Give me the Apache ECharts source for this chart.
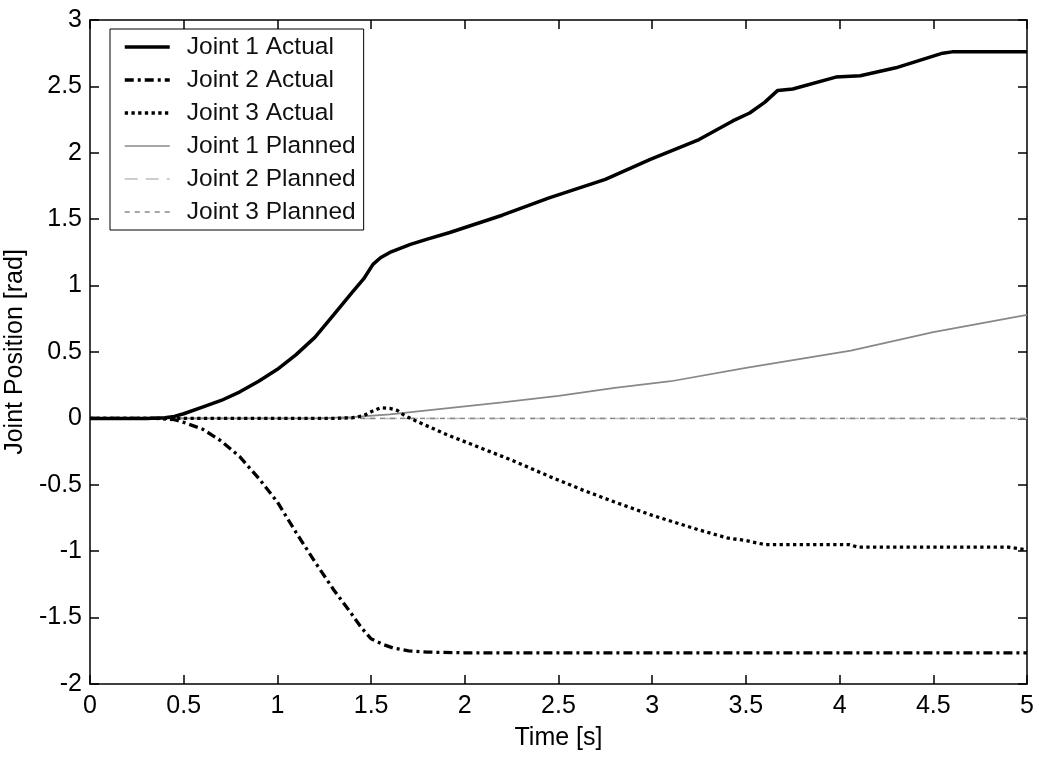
<!DOCTYPE html>
<html>
<head>
<meta charset="utf-8">
<script src="https://cdn.jsdelivr.net/npm/echarts@6/dist/echarts.min.js"></script>
<style>html,body{margin:0;padding:0;background:#fff}#c{width:1039px;height:757px}</style>
</head>
<body>
<div id="c"></div>
<script>
// Tick labels
const xTicks = [0, 0.5, 1, 1.5, 2, 2.5, 3, 3.5, 4, 4.5, 5];
const yTicks = [-2, -1.5, -1, -0.5, 0, 0.5, 1, 1.5, 2, 2.5, 3];
const seriesNames = ['Joint 1 Actual', 'Joint 2 Actual', 'Joint 3 Actual', 'Joint 1 Planned', 'Joint 2 Planned', 'Joint 3 Planned'];

// Joint 1 Actual
const t1 = [0, 0.3, 0.4, 0.45, 0.5, 0.6, 0.7, 0.8, 0.9, 1.0, 1.1, 1.2, 1.3, 1.4, 1.46, 1.51, 1.55, 1.6, 1.71, 1.8, 1.92, 2.2, 2.45, 2.75, 2.99, 3.25, 3.43, 3.52, 3.6, 3.67, 3.75, 3.98, 4.11, 4.3, 4.55, 4.6, 5.0];
const j1 = [0, 0, 0.005, 0.015, 0.035, 0.085, 0.135, 0.2, 0.28, 0.37, 0.48, 0.61, 0.78, 0.95, 1.05, 1.16, 1.21, 1.25, 1.31, 1.35, 1.40, 1.53, 1.66, 1.80, 1.95, 2.10, 2.24, 2.30, 2.38, 2.47, 2.48, 2.57, 2.58, 2.64, 2.75, 2.76, 2.76];

// Joint 2 Actual
const t2 = [0, 0.35, 0.45, 0.5, 0.6, 0.7, 0.8, 0.9, 1.0, 1.1, 1.2, 1.3, 1.4, 1.45, 1.5, 1.56, 1.62, 1.7, 1.8, 2.0, 2.5, 5.0];
const j2 = [0, 0, -0.01, -0.03, -0.08, -0.17, -0.29, -0.45, -0.63, -0.86, -1.08, -1.29, -1.48, -1.58, -1.66, -1.70, -1.73, -1.75, -1.76, -1.765, -1.765, -1.765];

// Joint 3 Actual
const t3 = [0, 1.3, 1.4, 1.46, 1.5, 1.55, 1.6, 1.64, 1.68, 1.74, 1.9, 2.08, 2.26, 2.44, 2.63, 2.8, 3.0, 3.25, 3.4, 3.5, 3.6, 4.05, 4.1, 4.9, 5.0];
const j3 = [0, 0, 0.005, 0.02, 0.05, 0.08, 0.075, 0.06, 0.02, -0.02, -0.12, -0.22, -0.32, -0.43, -0.54, -0.63, -0.73, -0.84, -0.9, -0.92, -0.95, -0.95, -0.97, -0.97, -0.99];

// Joint 1 Planned
const tp1 = [0, 1.2, 1.4, 1.6, 1.8, 2.0, 2.2, 2.5, 2.8, 3.1, 3.5, 4.06, 4.5, 5.0];
const p1 = [0, 0, 0.01, 0.03, 0.06, 0.09, 0.12, 0.17, 0.23, 0.28, 0.38, 0.51, 0.65, 0.78];

// Joint 2 / Joint 3 Planned
const tp23 = [0, 5];
const p2 = [0, 0];
const p3 = [0, 0];

const pairs = (t, v) => t.map((x, i) => [x, v[i]]);

const FONT = 'Liberation Sans, Arial, sans-serif';
const axisCommon = {
  type: 'value',
  interval: 0.5,
  axisLine: { show: true, onZero: false, lineStyle: { color: '#000', width: 1.5 } },
  axisTick: { show: true, inside: true, length: 9, lineStyle: { color: '#000', width: 1.5 } },
  splitLine: { show: false }
};

const styles = [
  { color: '#000', width: 3.5, type: 'solid' },
  { color: '#000', width: 3.3, type: [9, 4, 3, 4] },
  { color: '#000', width: 3.3, type: [3.3, 3.4] },
  { color: '#888', width: 1.7, type: 'solid' },
  { color: '#bdbdbd', width: 1.5, type: [13, 8] },
  { color: '#888', width: 1.5, type: [5, 5] }
];
const valuesT = [t1, t2, t3, tp1, tp23, tp23];
const valuesV = [j1, j2, j3, p1, p2, p3];
const zs = [4, 3, 3, 2, 1, 1];

const chart = echarts.init(document.getElementById('c'), null, { renderer: 'canvas' });
chart.setOption({
  animation: false,
  backgroundColor: '#fff',
  textStyle: { fontFamily: FONT },
  grid: { left: 90, right: 12, top: 20, bottom: 73, containLabel: false, outerBoundsMode: 'none' },
  legend: {
    orient: 'vertical',
    left: 110,
    top: 29,
    padding: [4, 8, 4, 13],
    itemGap: 5,
    itemWidth: 45,
    itemHeight: 14,
    backgroundColor: '#fff',
    borderColor: '#000',
    borderWidth: 1,
    borderRadius: 0,
    itemStyle: { opacity: 0, borderWidth: 0 },
    data: seriesNames.map((n, i) => ({ name: n, lineStyle: { width: styles[i].width, type: styles[i].type, color: styles[i].color } })),
    textStyle: { fontFamily: FONT, fontSize: 24.5, color: '#111', lineHeight: 28, padding: [0, 0, 0, 12] }
  },
  xAxis: [
    Object.assign({}, axisCommon, {
      min: 0, max: 5, position: 'bottom',
      name: 'Time [s]', nameLocation: 'middle', nameGap: 42,
      nameTextStyle: { fontFamily: FONT, fontSize: 25, color: '#000' },
      axisLabel: { show: true, margin: 10, fontFamily: FONT, fontSize: 25, color: '#000',
        formatter: v => xTicks.includes(v) ? String(v) : '' }
    }),
    Object.assign({}, axisCommon, {
      min: 0, max: 5, position: 'top', axisLabel: { show: false }
    })
  ],
  yAxis: [
    Object.assign({}, axisCommon, {
      min: -2, max: 3, position: 'left',
      name: 'Joint Position [rad]', nameLocation: 'middle', nameGap: 57,
      nameTextStyle: { fontFamily: FONT, fontSize: 25, color: '#000' },
      axisLabel: { show: true, margin: 8, fontFamily: FONT, fontSize: 25, color: '#000',
        formatter: v => yTicks.includes(v) ? String(v) : '' }
    }),
    Object.assign({}, axisCommon, {
      min: -2, max: 3, position: 'right', axisLabel: { show: false }
    })
  ],
  series: seriesNames.map((n, i) => ({
    name: n, type: 'line', data: pairs(valuesT[i], valuesV[i]),
    showSymbol: false, symbol: 'none', z: zs[i], smooth: false,
    lineStyle: styles[i], itemStyle: { color: styles[i].color }
  }))
});
</script>
</body>
</html>
